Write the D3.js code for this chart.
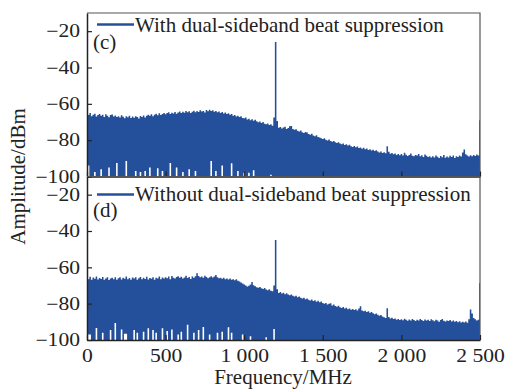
<!DOCTYPE html>
<html><head><meta charset="utf-8">
<script src="https://cdn.jsdelivr.net/npm/d3@7"></script>
<style>body{margin:0;background:#fff}svg{display:block}text{font-family:"Liberation Serif","Times New Roman",serif;fill:#222}</style>
</head><body><svg id="c" width="506" height="389"></svg>
<script>
// ---- data (dBm, 10 MHz bins from 0 to 2500 MHz) ----
const FREQ_STEP = 10;
const xTicks = [0, 500, 1000, 1500, 2000, 2500];
const yTicks = [-100, -80, -60, -40, -20];
const legendTop = "With dual-sideband beat suppression";
const legendBottom = "Without dual-sideband beat suppression";
const panelTop = "(c)", panelBottom = "(d)";

const topMax = [
-65.5,-66.2,-65.0,-66.8,-66.0,-65.4,-67.0,-66.1,-65.6,-66.6,
-66.0,-67.2,-65.8,-66.5,-67.4,-66.2,-65.9,-67.0,-66.4,-67.3,
-66.8,-67.5,-66.3,-67.1,-68.0,-66.9,-67.4,-66.5,-67.8,-67.0,
-67.6,-66.8,-67.3,-68.1,-66.7,-67.2,-66.4,-67.5,-66.6,-66.0,
-66.5,-65.7,-66.9,-66.0,-65.5,-66.3,-65.2,-66.1,-65.6,-65.0,
-65.8,-65.1,-64.7,-65.6,-64.9,-65.3,-64.5,-65.5,-64.8,-64.2,
-65.0,-64.4,-64.9,-63.9,-64.6,-64.1,-65.0,-64.3,-63.8,-64.7,
-64.0,-64.5,-63.6,-64.2,-63.9,-64.8,-63.4,-64.1,-63.2,-64.0,
-63.6,-64.3,-63.9,-64.6,-64.2,-65.0,-64.5,-65.3,-64.8,-65.6,
-65.2,-66.0,-65.6,-66.5,-66.1,-67.0,-66.6,-67.3,-66.9,-67.8,
-68.0,-67.5,-68.6,-68.2,-69.0,-68.5,-69.3,-68.8,-69.6,-70.1,
-69.7,-70.5,-70.0,-70.9,-71.3,-70.8,-71.6,-71.2,-72.0,-67.5,
-26.0,-69.5,-73.2,-72.8,-73.6,-73.0,-72.6,-73.8,-73.3,-72.4,
-72.2,-73.9,-74.3,-74.0,-74.8,-75.2,-74.7,-75.6,-76.0,-75.5,
-75.8,-76.6,-77.0,-76.5,-77.4,-77.9,-77.3,-78.2,-78.6,-79.0,
-79.4,-78.9,-79.8,-80.2,-79.7,-80.5,-80.9,-80.4,-81.2,-81.6,
-81.2,-81.9,-82.3,-81.8,-82.6,-82.2,-83.0,-82.5,-83.3,-83.7,
-83.2,-83.9,-83.5,-84.3,-84.0,-84.7,-84.2,-85.0,-84.6,-85.4,
-85.0,-85.7,-85.3,-86.0,-85.6,-86.3,-86.8,-86.2,-87.0,-86.6,
-87.2,-83.4,-86.4,-87.5,-87.0,-87.8,-87.3,-88.1,-87.6,-88.3,
-87.6,-88.4,-86.9,-88.0,-88.7,-88.2,-87.4,-88.6,-88.9,-88.1,
-88.5,-87.6,-88.9,-88.3,-89.2,-87.9,-88.6,-89.3,-88.8,-89.5,
-88.9,-89.6,-88.4,-89.1,-89.8,-88.7,-89.4,-88.2,-89.7,-89.0,
-89.5,-88.6,-89.2,-88.4,-89.8,-88.9,-89.3,-88.5,-89.0,-86.8,
-85.2,-87.8,-88.5,-89.0,-88.3,-88.9,-88.1,-88.7,-87.9,-88.4,
-69.0];
// bins where the trace floor stays above -100 dBm: [MHz, dBm]
const topGaps = [[10,-94],[50,-97.5],[90,-96],[140,-95],[190,-92.5],[250,-91.5],[310,-97],[340,-97.5],[370,-97],
[400,-95],[450,-95.5],[480,-97],[530,-92.5],[570,-95],[610,-97.5],[650,-96],[690,-97],[790,-91.5],[820,-97],
[860,-94],[920,-92.7],[960,-97],[1000,-98],[1030,-98],[1060,-96.5],[1170,-99]];

const bottomMax = [
-65.8,-66.5,-65.2,-66.9,-65.6,-66.3,-65.0,-66.7,-65.9,-66.4,
-65.3,-66.8,-66.1,-65.5,-67.0,-66.2,-65.7,-66.6,-65.4,-66.9,
-66.0,-65.4,-66.7,-65.8,-66.3,-65.1,-66.5,-65.9,-66.8,-65.6,
-66.2,-65.5,-66.9,-66.0,-65.3,-66.6,-65.8,-66.4,-65.2,-66.7,
-65.9,-66.3,-65.4,-66.8,-65.7,-66.1,-65.0,-66.5,-65.6,-66.2,
-65.4,-66.0,-65.1,-66.6,-64.8,-65.7,-66.2,-65.3,-64.9,-65.8,
-65.2,-66.1,-65.6,-64.7,-65.9,-65.3,-66.4,-65.0,-65.7,-64.9,
-63.2,-64.8,-65.5,-65.0,-65.8,-64.6,-65.3,-66.0,-65.4,-64.9,
-65.6,-65.1,-64.2,-65.4,-66.0,-65.7,-66.3,-65.8,-66.5,-66.1,
-66.7,-66.2,-66.9,-66.5,-67.1,-66.6,-67.4,-67.8,-68.3,-68.9,
-69.4,-70.0,-70.6,-70.2,-69.5,-68.1,-69.8,-70.4,-70.9,-71.3,
-70.8,-71.5,-71.9,-71.4,-72.2,-72.6,-72.1,-72.9,-73.2,-70.0,
-45.0,-72.0,-74.1,-73.6,-74.4,-74.0,-74.8,-74.3,-75.0,-75.4,
-74.9,-75.7,-76.1,-75.6,-76.4,-76.0,-76.8,-77.2,-76.7,-77.5,
-77.1,-77.8,-78.2,-77.7,-78.5,-78.1,-78.9,-78.4,-79.2,-78.8,
-79.6,-80.1,-79.7,-80.4,-80.0,-79.8,-81.0,-80.5,-81.3,-81.7,
-81.2,-82.0,-82.4,-81.9,-82.7,-82.3,-83.1,-82.6,-83.4,-83.0,
-83.5,-83.1,-83.8,-82.6,-81.4,-83.7,-84.2,-83.9,-84.6,-84.2,
-85.0,-84.6,-85.3,-85.8,-85.4,-86.1,-86.6,-86.2,-87.0,-87.5,
-87.9,-82.5,-87.4,-88.2,-87.8,-88.5,-88.1,-88.8,-88.4,-89.0,
-88.6,-89.1,-88.3,-88.9,-89.4,-88.7,-89.2,-88.5,-89.0,-89.5,
-88.8,-89.3,-88.4,-89.0,-89.6,-88.7,-89.2,-88.9,-89.5,-88.6,
-89.1,-89.7,-88.8,-89.3,-89.9,-89.0,-88.5,-89.4,-89.8,-89.2,
-89.6,-89.0,-89.8,-89.3,-90.0,-89.5,-90.2,-89.7,-90.4,-89.9,
-90.3,-89.8,-90.5,-88.6,-83.2,-85.4,-87.9,-88.6,-89.2,-88.8,
-68.6];
const bottomGaps = [[10,-97],[20,-97],[60,-93.4],[100,-96],[150,-94.5],[180,-90.7],[220,-94.2],[240,-96.5],[250,-96.5],
[300,-94.5],[320,-96],[360,-95.5],[390,-93.5],[420,-94.5],[440,-96],[480,-93.5],[510,-95],[540,-94.2],[580,-97],
[600,-95.5],[640,-91.6],[680,-96],[710,-94.5],[740,-92.8],[780,-97],[830,-96],[860,-95.5],[900,-93],[920,-96],
[990,-97],[1040,-98],[1140,-98.5],[1190,-94]];

// ---- layout ----
const BLUE = "#24509b";
const X0 = 87, X1 = 480;
const panels = [
  {max: topMax, gaps: topGaps, top: 13, bottom: 176.5, legend: legendTop, label: panelTop, legY: 32, lineY: 24.5, labY: 49},
  {max: bottomMax, gaps: bottomGaps, top: 176.5, bottom: 340, legend: legendBottom, label: panelBottom, legY: 200.5, lineY: 194.5, labY: 217}
];
const svg = d3.select("#c");
const x = d3.scaleLinear().domain([0, 2500]).range([X0, X1]);
const SX = 1.2; // horizontal stretch of tick label glyphs

panels.forEach((p, k) => {
  const y = d3.scaleLinear().domain([-100, -10]).range([p.bottom, p.top]);
  const lo = new Map(p.gaps.map(g => [g[0], g[1]]));
  const data = p.max.map((v, i) => ({f: i * FREQ_STEP, hi: v, lo: lo.has(i * FREQ_STEP) ? lo.get(i * FREQ_STEP) : -100}));
  const id = "clip" + k;
  svg.append("clipPath").attr("id", id).append("rect")
    .attr("x", X0).attr("y", p.top).attr("width", X1 - X0 + 1.6).attr("height", p.bottom - p.top);
  const area = d3.area().curve(d3.curveStep).x(d => x(d.f)).y0(d => y(d.lo)).y1(d => y(d.hi));
  svg.append("path").datum(data).attr("clip-path", `url(#${id})`).attr("d", area).attr("fill", BLUE);

  // frame top/right
  svg.append("path").attr("d", `M${X0},${p.top}H${X1}V${p.bottom}`).attr("fill", "none").attr("stroke", "#555").attr("stroke-width", 1.2);

  // y axis
  const ya = svg.append("g").attr("transform", `translate(${X0},0)`)
    .call(d3.axisLeft(y).tickValues(yTicks).tickSizeInner(-5).tickSizeOuter(0).tickPadding(7));
  ya.select(".domain").attr("stroke", "#222").attr("stroke-width", 1.5);
  ya.selectAll(".tick line").attr("stroke", "#222").attr("stroke-width", 1.2);
  ya.selectAll(".tick text").attr("font-size", 18).attr("fill", "#222")
    .attr("x", -7 / SX).attr("transform", `scale(${SX},1)`)
    .style("font-family", '"Liberation Serif",serif');

  // x axis
  const fmt = d => d >= 1000 ? d3.format(",")(d).replace(",", " ") : String(d);
  const xa = svg.append("g").attr("transform", `translate(0,${p.bottom})`)
    .call(d3.axisBottom(x).tickValues(xTicks).tickSizeInner(-5).tickSizeOuter(0).tickPadding(9).tickFormat(fmt));
  xa.select(".domain").attr("stroke", "#222").attr("stroke-width", 1.6);
  xa.selectAll(".tick line").attr("stroke", "#222").attr("stroke-width", 1.2);
  xa.selectAll(".tick text").attr("font-size", 18).attr("fill", "#222")
    .attr("transform", `scale(${SX},1)`).style("font-family", '"Liberation Serif",serif')
    .attr("display", k === 0 ? "none" : null);

  // legend
  svg.append("line").attr("x1", 97).attr("x2", 134).attr("y1", p.lineY).attr("y2", p.lineY)
    .attr("stroke", BLUE).attr("stroke-width", 2.6);
  svg.append("text").attr("x", 135).attr("y", p.legY).attr("font-size", 21).text(p.legend);
  svg.append("text").attr("x", 93).attr("y", p.labY).attr("font-size", 21).text(p.label);
});

svg.append("text").attr("transform", "translate(25,176.5) rotate(-90)").attr("text-anchor", "middle")
  .attr("font-size", 21).text("Amplitude/dBm");
svg.append("text").attr("x", 283).attr("y", 384).attr("text-anchor", "middle")
  .attr("font-size", 21).text("Frequency/MHz");
</script></body></html>
